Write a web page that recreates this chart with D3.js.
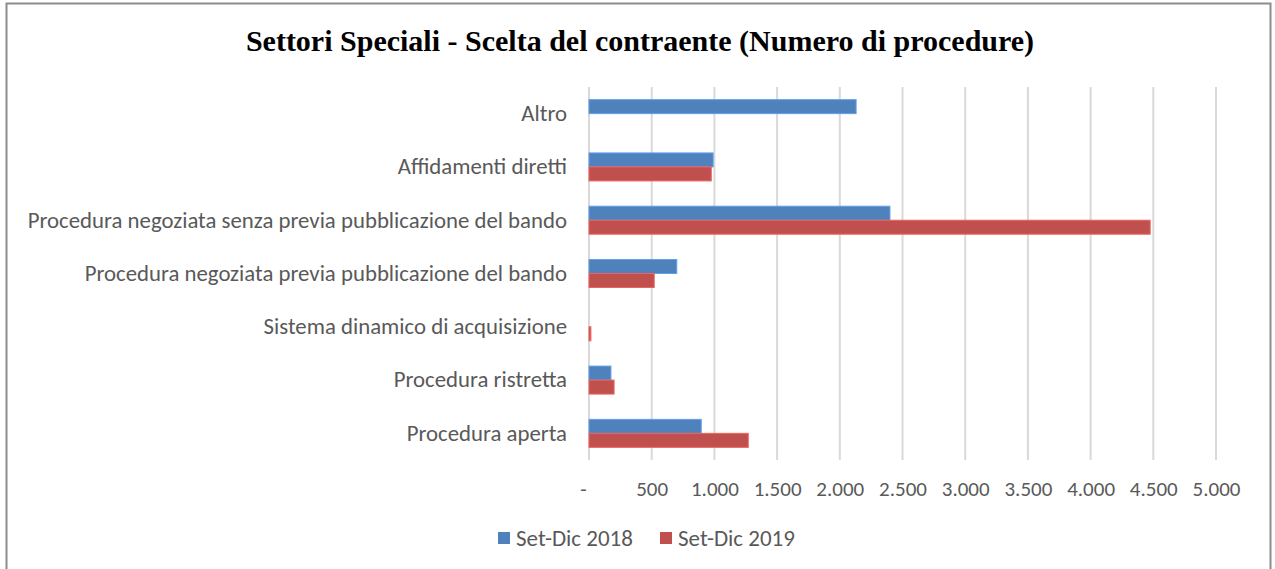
<!DOCTYPE html>
<html>
<head>
<meta charset="utf-8">
<script src="https://cdn.jsdelivr.net/npm/d3@7"></script>
<style>
  html, body { margin: 0; padding: 0; background: #fff; }
  svg { display: block; }
</style>
</head>
<body>
<div id="chart"></div>
<script>
// Settori Speciali - Scelta del contraente (Numero di procedure)
const categories = [
  "Altro",
  "Affidamenti diretti",
  "Procedura negoziata senza previa pubblicazione del bando",
  "Procedura negoziata previa pubblicazione del bando",
  "Sistema dinamico di acquisizione",
  "Procedura ristretta",
  "Procedura aperta"
];
const seriesNames = ["Set-Dic 2018", "Set-Dic 2019"];
const values2018 = [2130, 990, 2400, 700, 0, 175, 895];
const values2019 = [0, 975, 4475, 520, 15, 200, 1270];
const xTicks = [0, 500, 1000, 1500, 2000, 2500, 3000, 3500, 4000, 4500, 5000];
const colors = ["#4F81BD", "#C0504D"];

(function () {
  const W = 1275, H = 569;
  const plot = { left: 589, right: 1216, top: 87, bottom: 460 };
  const sans = "Carlito, Lato, 'Liberation Sans', sans-serif";

  const svg = d3.select("#chart").append("svg")
    .attr("width", W)
    .attr("height", H);

  // cornice
  svg.append("rect")
    .attr("x", 6.5).attr("y", 3.5)
    .attr("width", 1264).attr("height", 600)
    .attr("fill", "#fff")
    .attr("stroke", "#8c8c8c")
    .attr("stroke-width", 2);

  // titolo
  svg.append("text")
    .attr("x", 640)
    .attr("y", 51)
    .attr("text-anchor", "middle")
    .style("font-family", "'Liberation Serif', serif")
    .style("font-weight", "bold")
    .style("font-size", "30px")
    .style("fill", "#000")
    .text("Settori Speciali - Scelta del contraente (Numero di procedure)");

  const x = d3.scaleLinear()
    .domain([0, 5000])
    .range([plot.left, plot.right]);

  const y = d3.scaleBand()
    .domain(categories)
    .range([plot.top, plot.bottom]);

  const ySub = d3.scaleBand()
    .domain(seriesNames)
    .range([y.bandwidth() / 2 - 14, y.bandwidth() / 2 + 14]);

  const fmt = v => v === 0 ? "-" : d3.format(",")(v).replace(/,/g, ".");

  // griglia verticale
  svg.append("g")
    .selectAll("line")
    .data(xTicks)
    .join("line")
      .attr("x1", d => x(d)).attr("x2", d => x(d))
      .attr("y1", plot.top).attr("y2", plot.bottom)
      .attr("stroke", "#d9d9d9")
      .attr("stroke-width", 2);

  // asse x (solo etichette)
  const xAxis = svg.append("g")
    .attr("transform", `translate(0,${plot.bottom})`)
    .call(d3.axisBottom(x).tickValues(xTicks).tickFormat(fmt).tickSize(0).tickPadding(21));
  xAxis.select(".domain").remove();
  xAxis.selectAll("text")
    .attr("dx", d => d === 0 ? -6 : 0)
    .style("font-family", sans)
    .style("font-size", "21px")
    .style("fill", "#595959");

  // asse y (etichette categorie)
  const yAxis = svg.append("g")
    .attr("transform", `translate(${plot.left},0)`)
    .call(d3.axisLeft(y).tickSize(0).tickPadding(22));
  yAxis.select(".domain").remove();
  yAxis.selectAll("text")
    .style("font-family", sans)
    .style("font-size", "22.8px")
    .style("fill", "#595959");

  // barre
  const rows = categories.map((c, i) => ({ cat: c, vals: [values2018[i], values2019[i]] }));
  const groups = svg.append("g")
    .selectAll("g")
    .data(rows)
    .join("g")
      .attr("transform", d => `translate(0,${y(d.cat)})`);

  groups.selectAll("rect")
    .data(d => d.vals.map((v, j) => ({ v, j })).filter(e => e.v > 0))
    .join("rect")
      .attr("x", x(0))
      .attr("y", d => ySub(seriesNames[d.j]))
      .attr("width", d => x(d.v) - x(0))
      .attr("height", ySub.bandwidth())
      .attr("fill", d => colors[d.j])
      .attr("stroke", d => d3.color(colors[d.j]).brighter(0.6))
      .attr("stroke-width", 1);

  // legenda
  const legendX = [498, 660];
  const legend = svg.append("g")
    .selectAll("g")
    .data(seriesNames)
    .join("g")
      .attr("transform", (d, i) => `translate(${legendX[i]},538)`);
  legend.append("rect")
    .attr("x", 0).attr("y", -6)
    .attr("width", 12).attr("height", 12)
    .attr("fill", (d, i) => colors[i]);
  legend.append("text")
    .attr("x", 18)
    .attr("dy", "0.35em")
    .style("font-family", sans)
    .style("font-size", "23px")
    .style("fill", "#595959")
    .text(d => d);
})();
</script>
</body>
</html>
